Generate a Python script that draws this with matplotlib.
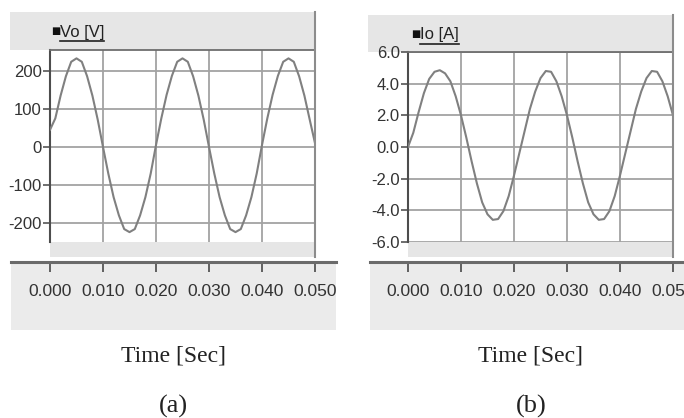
#!/usr/bin/env python3
"""Inverter output voltage and current, two PSIM-style scope panels."""

import matplotlib

matplotlib.use("Agg")
import matplotlib.pyplot as plt
import numpy as np
from matplotlib.lines import Line2D
from matplotlib.patches import Rectangle

plt.rcParams["font.family"] = ["Liberation Sans", "DejaVu Sans"]
plt.rcParams["axes.unicode_minus"] = False

W, H = 684, 418

# sample times, one every millisecond
TIME_S = np.linspace(0.0, 0.050, 51)

VO_V = [
    45, 75, 135, 186, 224, 233, 224, 186, 135, 72,
    0, -70, -132, -180, -216, -224, -216, -180, -132, -70,
    5, 75, 137, 187, 224, 233, 224, 186, 135, 72,
    0, -70, -132, -180, -216, -224, -216, -180, -132, -70,
    5, 75, 137, 187, 224, 233, 224, 186, 135, 72,
    10,
]

IO_A = [
    0.0, 0.9, 2.2, 3.4, 4.3, 4.75, 4.85, 4.65, 4.15, 3.2,
    2.0, 0.6, -0.9, -2.3, -3.5, -4.25, -4.6, -4.55, -4.05, -3.1,
    -1.8, -0.4, 1.0, 2.4, 3.5, 4.35, 4.8, 4.75, 4.15, 3.2,
    2.0, 0.6, -0.9, -2.3, -3.5, -4.25, -4.6, -4.55, -4.05, -3.1,
    -1.8, -0.4, 1.0, 2.4, 3.5, 4.35, 4.8, 4.75, 4.15, 3.2,
    2.0,
]

X_TICKS = [0.0, 0.01, 0.02, 0.03, 0.04, 0.05]
X_TICK_LABELS = ["0.000", "0.010", "0.020", "0.030", "0.040", "0.050"]
VO_TICKS = [-200, -100, 0, 100, 200]
VO_TICK_LABELS = ["-200", "-100", "0", "100", "200"]
IO_TICKS = [-6, -4, -2, 0, 2, 4, 6]
IO_TICK_LABELS = ["-6.0", "-4.0", "-2.0", "0.0", "2.0", "4.0", "6.0"]
SERIES_NAMES = ["Vo [V]", "Io [A]"]
PANEL_TAGS = ["(a)", "(b)"]
X_LABEL = "Time [Sec]"

HEADER_GRAY = "#e6e6e6"
STRIP_GRAY = "#ebebeb"
GRID_GRAY = "#a3a3a3"
CURVE_GRAY = "#808080"


def px_axes(fig, left, top, right, bottom):
    return fig.add_axes(
        [left / W, 1 - bottom / H, (right - left) / W, (bottom - top) / H]
    )


def px_rect(fig, left, top, right, bottom, color):
    fig.add_artist(
        Rectangle(
            (left / W, 1 - bottom / H), (right - left) / W, (bottom - top) / H,
            transform=fig.transFigure, facecolor=color, edgecolor="none",
            zorder=0,
        )
    )


def px_line(fig, x0, y0, x1, y1, color, lw):
    fig.add_artist(
        Line2D([x0 / W, x1 / W], [1 - y0 / H, 1 - y1 / H],
               transform=fig.transFigure, color=color, linewidth=lw)
    )


def draw_panel(fig, layout, values, y_ticks, y_labels, ylim, name, tag):
    pl, pt, pr, pb = layout["plot"]

    px_rect(fig, *layout["header"], HEADER_GRAY)
    px_rect(fig, pl, pb, pr, pb + 15, HEADER_GRAY)
    px_rect(fig, *layout["strip"], STRIP_GRAY)
    px_line(fig, pr, layout["header"][1], pr, pb + 15, "#8c8c8c", 1.5)

    ax = px_axes(fig, pl, pt, pr, pb)
    ax.plot(TIME_S, values, color=CURVE_GRAY, linewidth=1.5, zorder=3)
    ax.set_xlim(X_TICKS[0], X_TICKS[-1])
    ax.set_ylim(*ylim)
    ax.set_xticks(X_TICKS)
    ax.set_yticks(y_ticks)
    ax.set_yticklabels(y_labels)
    ax.grid(True, color=GRID_GRAY, linewidth=1.3)
    ax.set_axisbelow(True)
    ax.tick_params(axis="x", length=0, labelbottom=False)
    ax.tick_params(axis="y", length=5, width=1.2, color="#555555", pad=1,
                   labelsize=12, labelcolor="#333333")
    ax.spines["left"].set_color("#4d4d4d")
    ax.spines["left"].set_linewidth(1.5)
    ax.spines["top"].set_color("#6e6e6e")
    ax.spines["top"].set_linewidth(1.3)
    ax.spines["right"].set_visible(False)
    ax.spines["bottom"].set_visible(False)

    # separate time axis strip below the scope area
    sl, st, sr, _ = layout["strip"]
    scale = (X_TICKS[-1] - X_TICKS[0]) / (pr - pl)
    strip = px_axes(fig, sl, st, sr, st + 18)
    strip.set_facecolor("none")
    strip.set_xlim((sl - pl) * scale, (sr - pl) * scale)
    strip.set_ylim(0, 1)
    strip.set_xticks(X_TICKS)
    strip.set_xticklabels(X_TICK_LABELS)
    strip.set_yticks([])
    strip.tick_params(axis="x", top=True, bottom=False, labelbottom=True,
                      direction="in", length=7, width=1.3, color="#555555",
                      labelsize=12.5, labelcolor="#333333", pad=3)
    for side in ("left", "right", "bottom"):
        strip.spines[side].set_visible(False)
    strip.spines["top"].set_color("#6a6a6a")
    strip.spines["top"].set_linewidth(2.2)

    # legend entry in the header
    sx, sy = layout["legend"]
    fig.text((sx + 3) / W, 1 - sy / H, "\u25a0", fontfamily="DejaVu Sans",
             fontsize=7, color="#111111", ha="center", va="center")
    label = fig.text((sx + 7) / W, 1 - (sy + 1) / H, name, fontsize=12,
                     color="#222222", ha="left", va="center")
    fig.canvas.draw()
    box = label.get_window_extent()
    px_line(fig, box.x0, sy + 10, box.x1, sy + 10, "#222222", 1.2)

    cx = layout["label_x"]
    fig.text(cx / W, 1 - 356 / H, X_LABEL, fontfamily="Liberation Serif",
             fontsize=17, color="#222222", ha="center", va="center")
    fig.text(cx / W, 1 - 406 / H, tag, fontfamily="Liberation Serif",
             fontsize=19, color="#222222", ha="center", va="center")


def main():
    fig = plt.figure(figsize=(W / 100, H / 100), dpi=100)
    fig.patch.set_facecolor("white")

    layout_a = {
        "plot": (50, 50, 315, 242),
        "header": (10, 12, 315, 50),
        "strip": (11, 262, 336, 330),
        "legend": (53, 31),
        "label_x": 173,
    }
    layout_b = {
        "plot": (408, 52, 673, 242),
        "header": (368, 15, 673, 52),
        "strip": (370, 262, 684, 330),
        "legend": (413, 34),
        "label_x": 531,
    }

    draw_panel(fig, layout_a, VO_V, VO_TICKS, VO_TICK_LABELS, (-250, 255),
               SERIES_NAMES[0], PANEL_TAGS[0])
    draw_panel(fig, layout_b, IO_A, IO_TICKS, IO_TICK_LABELS, (-6.0, 6.0),
               SERIES_NAMES[1], PANEL_TAGS[1])

    fig.savefig("out.png", dpi=100)
    plt.close(fig)


if __name__ == "__main__":
    main()
